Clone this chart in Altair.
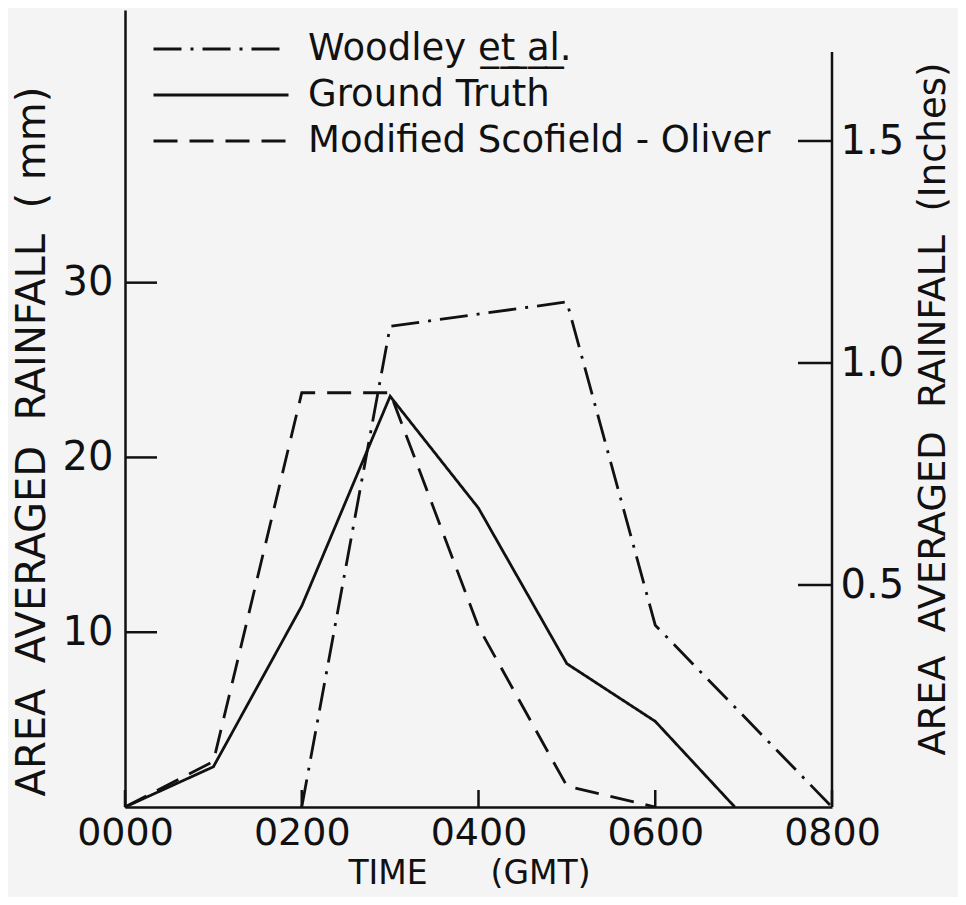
import altair as alt
import pandas as pd

# ---- data (time in hours GMT, rainfall in mm) ----
series_names = ["Woodley e\u0332t\u0332\u00a0\u0332a\u0332l\u0332.", "Ground Truth", "Modified Scofield - Oliver"]

woodley_time = [2, 3, 5, 6, 8]
woodley_mm = [0, 27.5, 28.9, 10.4, 0]

ground_time = [0, 1, 2, 3, 4, 5, 6, 6.9]
ground_mm = [0, 2.3, 11.5, 23.5, 17.1, 8.2, 4.9, 0]

scofield_time = [0, 1, 2, 3, 4, 5, 6]
scofield_mm = [0, 2.6, 23.7, 23.7, 10.3, 1.2, 0]

x_tick_values = [0, 2, 4, 6, 8]
y_tick_values_mm = [10, 20, 30]
y_tick_values_in = [0.5, 1.0, 1.5]
MM_PER_INCH = 25.4
y_max_mm = 45.6
right_axis_top_mm = 43.2

rows = []
for name, ts, vs in zip(series_names,
                        [woodley_time, ground_time, scofield_time],
                        [woodley_mm, ground_mm, scofield_mm]):
    for i, (t, v) in enumerate(zip(ts, vs)):
        rows.append({"series": name, "time": t, "mm": v, "order": i})
df = pd.DataFrame(rows)

W, H = 707, 797
FONT = "DejaVu Sans"
INK = "#111111"
LW = 2.8

xscale = alt.Scale(domain=[0, 8], nice=False, zero=False)
yscale = alt.Scale(domain=[0, y_max_mm], nice=False, zero=True)

lines = alt.Chart(df).mark_line(strokeWidth=LW, color=INK).encode(
    x=alt.X("time:Q", scale=xscale,
            axis=alt.Axis(values=x_tick_values, labelExpr="format(datum.value * 100, '04d')",
                          ticks=False, domain=True, grid=False, labelPadding=7,
                          labelFontSize=38,
                          title="TIME\u00a0\u00a0\u00a0\u00a0\u00a0\u00a0(GMT)", titleFontSize=33,
                          titlePadding=5, labelFlush=False, titleX=344)),
    y=alt.Y("mm:Q", scale=yscale,
            axis=alt.Axis(values=y_tick_values_mm, ticks=False, domain=True, grid=False,
                          labelPadding=12, orient="left",
                          title="AREA\u00a0 AVERAGED\u00a0 RAINFALL\u00a0 (\u00a0mm)",
                          titleFontSize=40, titlePadding=10, titleY=431)),
    strokeDash=alt.StrokeDash(
        "series:N",
        scale=alt.Scale(domain=series_names, range=[[28, 9, 3, 9], [1, 0], [24, 12]]),
        legend=alt.Legend(title=None, orient="none", legendX=27, legendY=16, padding=0,
                          symbolType="stroke", symbolSize=18225, symbolStrokeWidth=LW,
                          symbolStrokeColor=INK, labelFont=FONT, labelFontSize=37,
                          labelColor=INK, clipHeight=46, labelOffset=18, rowPadding=0,
                          labelLimit=700)),
    order="order:Q",
)

left_ticks = alt.Chart(pd.DataFrame({"v": y_tick_values_mm})).mark_tick(
    size=32, thickness=2.5, color=INK, opacity=1).encode(
    y=alt.Y("v:Q", scale=yscale, axis=None), x=alt.value(16))

x_ticks = alt.Chart(pd.DataFrame({"v": x_tick_values})).mark_tick(
    size=17, thickness=2.5, color=INK, opacity=1).encode(
    x=alt.X("v:Q", scale=xscale, axis=None), y=alt.value(H - 8.5))

right_df = pd.DataFrame({"v": [y * MM_PER_INCH for y in y_tick_values_in]})
right_ticks = alt.Chart(right_df).mark_tick(size=34, thickness=2.5, color=INK, opacity=1).encode(
    y=alt.Y("v:Q", scale=yscale,
            axis=alt.Axis(orient="right", values=[y * MM_PER_INCH for y in y_tick_values_in],
                          labelExpr="format(datum.value / 25.4, '.1f')",
                          ticks=False, domain=False, grid=False, labelPadding=8,
                          title="AREA\u00a0 AVERAGED\u00a0 RAINFALL\u00a0 (Inches)",
                          titleFontSize=37, titleAngle=270, titlePadding=49)),
    x=alt.value(W - 17))

right_line = alt.Chart(pd.DataFrame({"y0": [0], "y1": [right_axis_top_mm]})).mark_rule(
    strokeWidth=2.5, color=INK).encode(
    y=alt.Y("y0:Q", scale=yscale, axis=None), y2="y1:Q", x=alt.value(W))

chart = alt.layer(lines, left_ticks, x_ticks, right_ticks, right_line).resolve_axis(
    x="independent", y="independent").properties(
    width=W, height=H, autosize=alt.AutoSizeParams(type="none"),
    padding={"left": 117, "top": 2, "right": 126, "bottom": 90},
    background="#f4f4f4",
).configure_view(stroke=None).configure_axis(
    labelFont=FONT, titleFont=FONT, labelFontSize=40, labelColor=INK, titleColor=INK,
    domainColor=INK, domainWidth=2.5, titleFontWeight="normal",
)

chart.save("out.html", embed_options={"renderer": "svg", "actions": False})
